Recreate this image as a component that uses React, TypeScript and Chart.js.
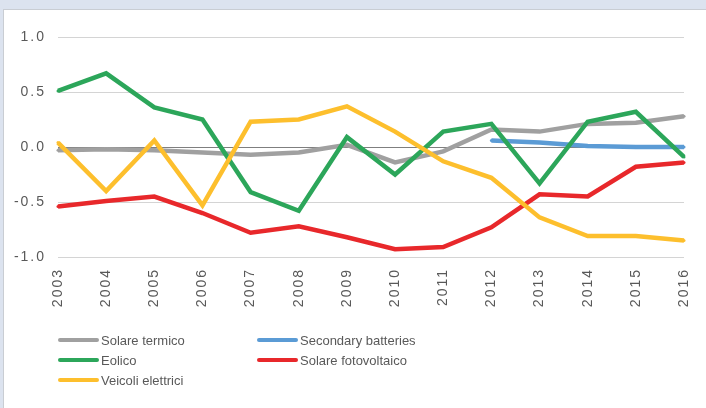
import React, { useEffect, useRef } from 'react';
import { Chart, registerables } from 'chart.js';
Chart.register(...registerables);

const years = ['2003', '2004', '2005', '2006', '2007', '2008', '2009', '2010', '2011', '2012', '2013', '2014', '2015', '2016'];
const solareTermico = [-0.03, -0.02, -0.03, -0.05, -0.07, -0.05, 0.02, -0.14, -0.04, 0.16, 0.14, 0.21, 0.22, 0.28];
const secondaryBatteries = [null, null, null, null, null, null, null, null, null, 0.06, 0.04, 0.01, 0.0, 0.0];
const eolico = [0.51, 0.67, 0.36, 0.25, -0.41, -0.58, 0.09, -0.25, 0.14, 0.21, -0.33, 0.23, 0.32, -0.09];
const solareFotovoltaico = [-0.54, -0.49, -0.45, -0.6, -0.78, -0.72, -0.82, -0.93, -0.91, -0.73, -0.43, -0.45, -0.18, -0.14];
const veicoliElettrici = [0.04, -0.4, 0.06, -0.53, 0.23, 0.25, 0.37, 0.14, -0.13, -0.28, -0.64, -0.81, -0.81, -0.85];
const yTicks = [-1, -0.5, 0, 0.5, 1];

const series = [
  { label: 'Solare termico', data: solareTermico, color: '#a0a0a0' },
  { label: 'Secondary batteries', data: secondaryBatteries, color: '#5b9bd5' },
  { label: 'Eolico', data: eolico, color: '#2ca65a' },
  { label: 'Solare fotovoltaico', data: solareFotovoltaico, color: '#e8282b' },
  { label: 'Veicoli elettrici', data: veicoliElettrici, color: '#fdbf2d' },
];

const W = 706;
const H = 408;

export default function App() {
  const ref = useRef<HTMLCanvasElement>(null);
  useEffect(() => {
    const canvas = ref.current!;
    const spacing = {
      id: 'spacing',
      beforeDraw(chart: any) {
        chart.ctx.letterSpacing = '2px';
      },
    };
    const chart = new Chart(canvas, {
      type: 'line',
      data: {
        labels: years,
        datasets: series.map((s, i) => ({
          label: s.label,
          data: s.data as any,
          borderColor: s.color,
          backgroundColor: s.color,
          borderWidth: 4.5,
          pointRadius: 1.5,
          pointBorderWidth: 0,
          pointBackgroundColor: s.color,
          tension: 0,
          order: series.length - i,
        })),
      },
      options: {
        animation: false,
        responsive: false,
        devicePixelRatio: 1,
        layout: { padding: { left: 0, right: 22, top: 37, bottom: 0 } },
        plugins: { legend: { display: false }, tooltip: { enabled: false } },
        scales: {
          x: {
            offset: false,
            grid: { display: false, drawTicks: false },
            border: { display: false },
            ticks: {
              autoSkip: false,
              minRotation: 90,
              maxRotation: 90,
              padding: 11,
              color: '#595959',
              font: { family: 'Liberation Sans, Arial, sans-serif', size: 14 },
            },
            afterFit(scale: any) {
              scale.height = H - 257;
              scale.paddingLeft = 0;
              scale.paddingRight = 0;
            },
          },
          y: {
            min: -1,
            max: 1,
            grid: {
              drawTicks: false,
              color: (c: any) => (c.tick && c.tick.value === 0 ? '#7f7f7f' : '#d4d4d4'),
              lineWidth: 1,
            },
            border: { display: false },
            afterBuildTicks(scale: any) {
              scale.ticks = yTicks.map((v) => ({ value: v }));
            },
            ticks: {
              padding: 12,
              color: '#595959',
              font: { family: 'Liberation Sans, Arial, sans-serif', size: 14 },
              callback: (v: any) => Number(v).toFixed(1),
            },
            afterFit(scale: any) {
              scale.width = 58;
            },
          },
        },
      },
      plugins: [spacing],
    });
    return () => chart.destroy();
  }, []);

  const legendPos = [
    { x: 58, y: 340 },
    { x: 257, y: 340 },
    { x: 58, y: 360 },
    { x: 257, y: 360 },
    { x: 58, y: 380 },
  ];

  return (
    <div style={{ position: 'fixed', left: 0, top: 0, width: W, height: H, background: '#dce3ef', overflow: 'hidden' }}>
      <div
        style={{
          position: 'absolute',
          left: 3,
          top: 9,
          width: W - 3,
          height: H - 9,
          background: '#ffffff',
          borderLeft: '1px solid #c9cdd3',
          borderTop: '1px solid #c9cdd3',
          boxSizing: 'border-box',
        }}
      />
      <canvas ref={ref} width={W} height={H} style={{ position: 'absolute', left: 0, top: 0, width: W, height: H }} />
      {series.map((s, i) => (
        <div
          key={s.label}
          style={{
            position: 'absolute',
            left: legendPos[i].x,
            top: legendPos[i].y - 10,
            height: 20,
            display: 'flex',
            alignItems: 'center',
            fontFamily: 'Liberation Sans, Arial, sans-serif',
            fontSize: 13,
            color: '#595959',
            whiteSpace: 'nowrap',
          }}
        >
          <span style={{ display: 'inline-block', width: 41, height: 4, borderRadius: 2, background: s.color, marginRight: 2 }} />
          <span>{s.label}</span>
        </div>
      ))}
    </div>
  );
}
